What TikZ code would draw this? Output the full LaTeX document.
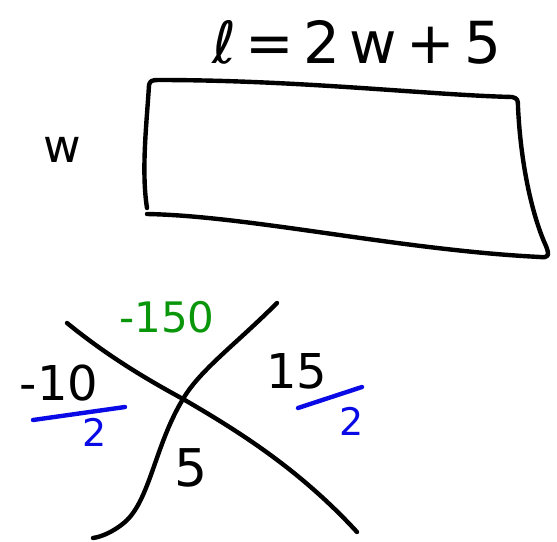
\documentclass[tikz,border=0pt]{standalone}
\usepackage{fontspec}
\setmainfont{DejaVu Sans}
\definecolor{penGreen}{RGB}{10,150,10}
\definecolor{penBlue}{RGB}{10,10,230}
\tikzset{
  pen/.style={line width=4.4pt, line cap=round, line join=round},
  hand/.style={inner sep=0pt, font=\fontsize{#1}{#1}\selectfont},
}
\begin{document}
\begin{tikzpicture}[x=1pt, y=-1pt]
    \useasboundingbox (0,0) rectangle (557,541);
    % 式と辺
    \node[hand=58] (len) at (357,42) {\addfontfeature{LetterSpace=16}ℓ=2w+5};
    \node[hand=46] (wid) at (62,150) {w};
    % 長方形
    \draw[pen] (147,208) .. controls (141,170) and (147,120) .. (149,85)
      .. controls (150,81) and (152,80) .. (158,80)
      .. controls (300,80) and (430,95) .. (512,97)
      .. controls (518,98) and (518,101) .. (518,107)
      .. controls (521,170) and (534,220) .. (546,246)
      .. controls (550,256) and (548,258) .. (540,257)
      .. controls (400,250) and (250,216) .. (147,214);
    % 交差する二本の線
    \draw[pen] (67,323) .. controls (110,358) and (150,381) .. (183,399)
      .. controls (240,432) and (300,470) .. (357,532);
    \draw[pen] (277,303) .. controls (235,345) and (200,370) .. (183,399)
      .. controls (155,445) and (150,500) .. (125,522)
      .. controls (112,533) and (100,537) .. (93,538);
    % 数
    \node[hand=42, text=penGreen] (top) at (167,317) {-150};
    \node[hand=48] (left) at (59,383) {-10};
    \node[hand=48] (right) at (297,371) {15};
    \node[hand=52] (bottom) at (191,468) {5};
    % 分母
    \draw[pen, penBlue] (33,420) -- (125,407);
    \node[hand=38, text=penBlue] (leftden) at (95,432) {2};
    \draw[pen, penBlue] (298,408) -- (362,387);
    \node[hand=38, text=penBlue] (rightden) at (352,421) {2};
\end{tikzpicture}
\end{document}
